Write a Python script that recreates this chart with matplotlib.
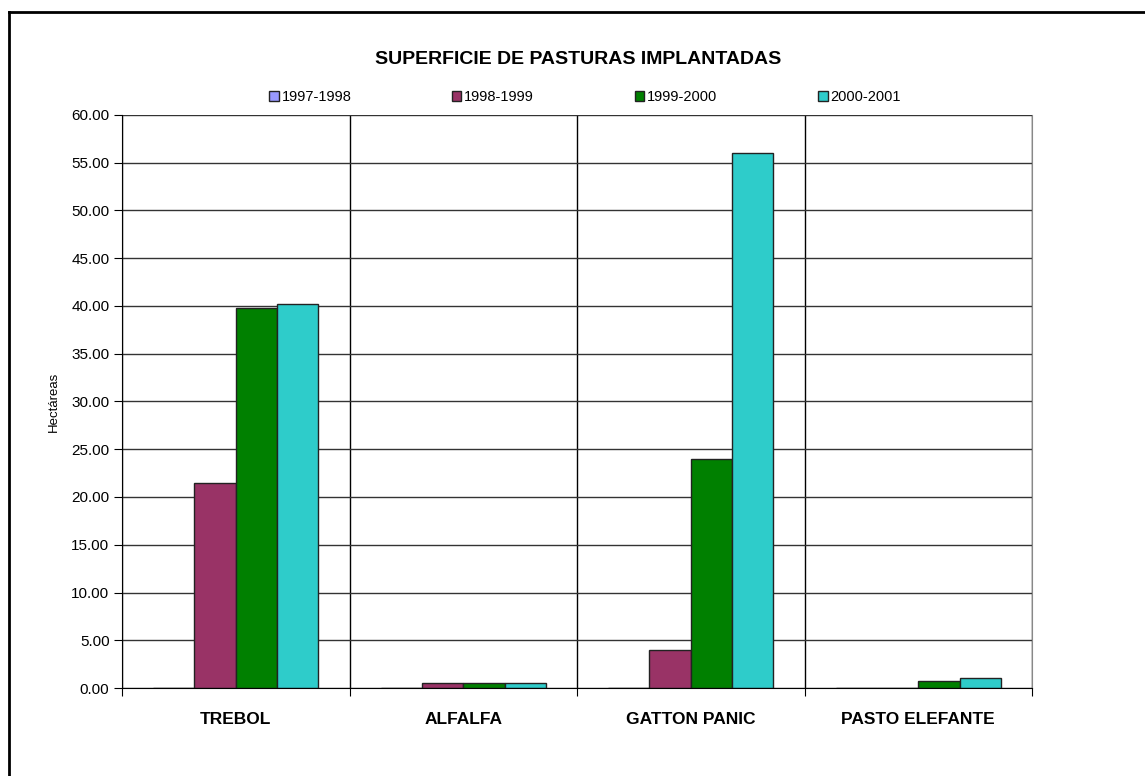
import matplotlib
matplotlib.use("Agg")
import matplotlib.pyplot as plt
import numpy as np
from matplotlib.lines import Line2D

categories = ["TREBOL", "ALFALFA", "GATTON PANIC", "PASTO ELEFANTE"]
series = ["1997-1998", "1998-1999", "1999-2000", "2000-2001"]
v_9798 = [0.0, 0.0, 0.0, 0.0]
v_9899 = [21.5, 0.5, 4.0, 0.0]
v_9900 = [39.75, 0.5, 24.0, 0.75]
v_0001 = [40.2, 0.5, 56.0, 1.0]
values = [v_9798, v_9899, v_9900, v_0001]
colors = ["#9999FF", "#993366", "#008000", "#2ECCCA"]
yticks = np.arange(0, 60.01, 5)

plt.rcParams["font.family"] = ["Liberation Sans", "DejaVu Sans"]

fig = plt.figure(figsize=(11.45, 7.76), dpi=100)
ax = fig.add_axes([122/1145, 1-688/776, (1032-122)/1145, (688-115)/776])

x = np.arange(len(categories))
w = 1/5.5
for i, (s, vals, c) in enumerate(zip(series, values, colors)):
    ax.bar(x + (i-1.5)*w, vals, width=w, color=c, edgecolor="#222222",
           linewidth=1.0, label=s, zorder=3)

ax.set_xlim(-0.5, 3.5)
ax.set_ylim(0, 60)
ax.set_yticks(yticks)
ax.set_yticklabels([f"{t:.2f}" for t in yticks], fontsize=11)
ax.yaxis.grid(True, color="#333333", linewidth=1.0, zorder=0)

ax.set_xticks(np.arange(-0.5, 3.6, 1.0))
ax.set_xticklabels([])
ax.set_xticks(x, minor=True)
ax.set_xticklabels(categories, minor=True, fontsize=12.5, fontweight="bold")
ax.tick_params(axis="x", which="minor", length=0, pad=17)
ax.tick_params(axis="x", which="major", length=6, direction="out", color="black")
ax.tick_params(axis="y", length=6, direction="out", color="black", pad=3)
ax.xaxis.grid(True, which="major", color="black", linewidth=1.0, zorder=0)

ax.spines["top"].set_visible(False)
ax.spines["right"].set_color("#888888")
ax.spines["left"].set_color("black")
ax.spines["bottom"].set_color("black")
ax.spines["bottom"].set_zorder(5)

ax.set_ylabel("Hectáreas", fontsize=9.5, labelpad=8)

fig.text(578/1145, 1-60/776, "SUPERFICIE DE PASTURAS IMPLANTADAS",
         ha="center", va="center", fontsize=14, fontweight="bold")

handles, labels = ax.get_legend_handles_labels()
fig.legend(handles, labels, loc="center", bbox_to_anchor=(585/1145, 1-97/776),
           ncol=4, frameon=False, fontsize=10.5, handlelength=0.65, handleheight=0.65,
           handletextpad=0.2, columnspacing=6.9)

# outer chart border (top and left visible)
fig.add_artist(Line2D([9/1145, 9/1145], [0, 1-12/776], transform=fig.transFigure,
                      color="black", linewidth=2))
fig.add_artist(Line2D([9/1145, 1], [1-12/776, 1-12/776], transform=fig.transFigure,
                      color="black", linewidth=2))

fig.savefig("out.png", dpi=100)
